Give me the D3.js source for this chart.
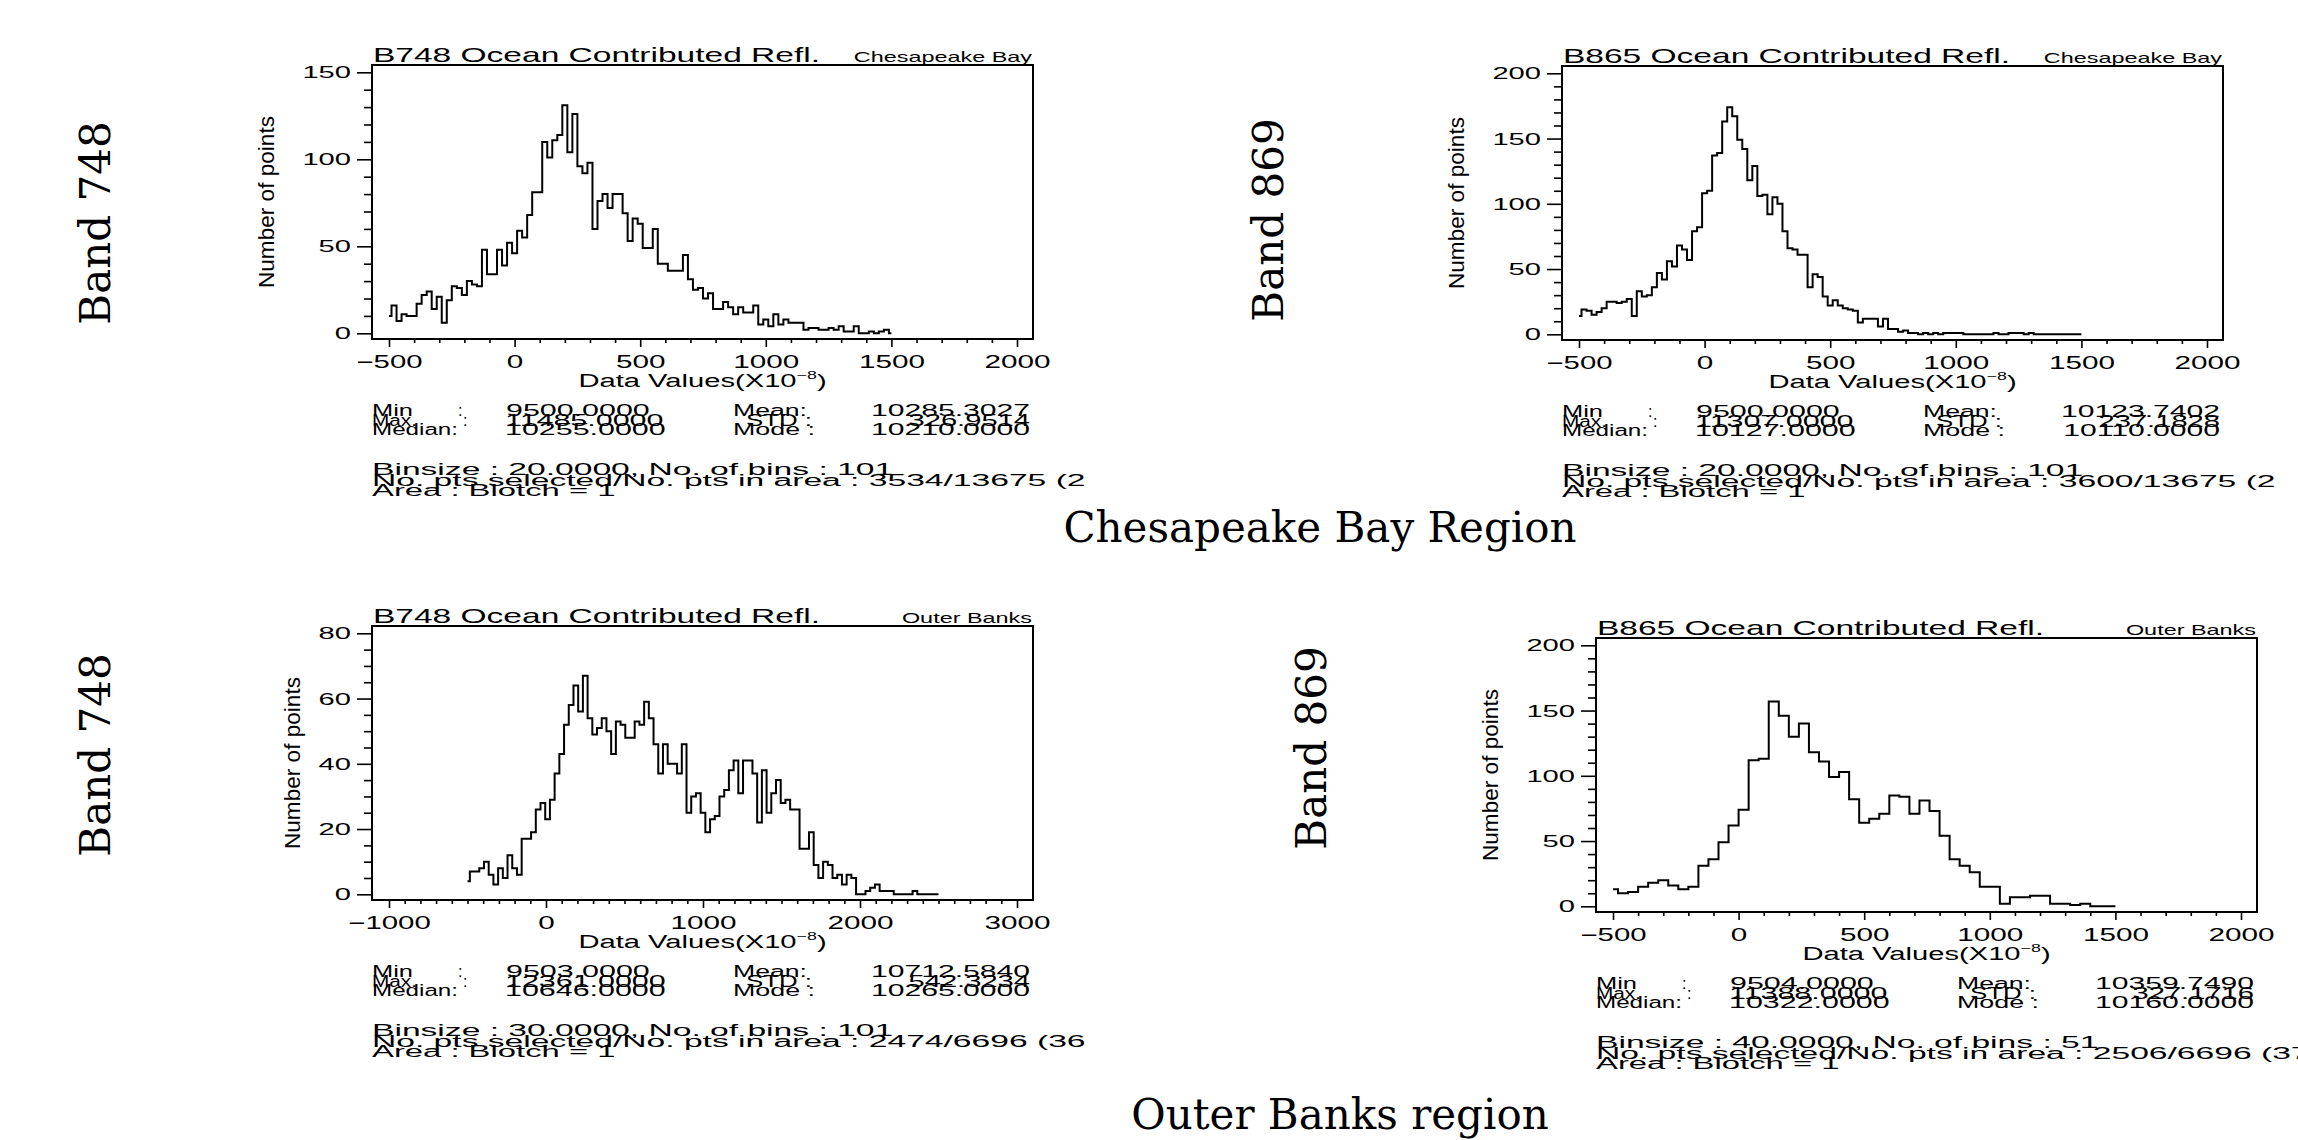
<!DOCTYPE html>
<meta charset="utf-8">
<script src="https://cdn.jsdelivr.net/npm/d3@7"></script>
<style>
    body {
        margin: 0;
        background: #fff;
    }

    text {
        font-family: "Liberation Sans", Arial, sans-serif;
        fill: #000;
    }

    text.serif {
        font-family: "DejaVu Serif", serif;
    }
</style>
<html>

<head>
    <title></title>
</head>

<body>
    <script>

        // histogram counts, one value per bin
        var cbay748 = [10, 16, 7, 11, 10, 10, 17, 22, 24, 14,
            21, 6, 19, 27, 26, 22, 30, 28, 27, 48,
            34, 34, 48, 39, 52, 46, 59, 55, 68, 81,
            81, 110, 101, 111, 114, 131, 104, 126, 96, 92,
            98, 60, 76, 80, 72, 80, 80, 69, 53, 66,
            63, 49, 49, 60, 40, 40, 36, 36, 36, 45,
            31, 25, 26, 20, 23, 14, 14, 18, 15, 11,
            15, 12, 12, 16, 5, 8, 4, 11, 5, 8,
            6, 6, 6, 2, 3, 3, 2, 2, 3, 2,
            4, 1, 1, 4, 0, 0, 1, 0, 1, 2, 0];

        var cbay869 = [14, 19, 18, 15, 17, 20, 25, 25, 24, 25,
            27, 14, 33, 29, 30, 36, 47, 42, 56, 52,
            68, 65, 57, 79, 82, 108, 110, 137, 139, 163,
            174, 167, 149, 142, 118, 129, 106, 107, 92, 105,
            100, 79, 66, 65, 61, 61, 36, 46, 44, 29,
            22, 26, 22, 20, 19, 18, 9, 12, 12, 12,
            6, 12, 4, 4, 2, 3, 1, 1, 0, 1,
            0, 1, 0, 1, 1, 1, 1, 0, 0, 0,
            0, 0, 0, 1, 0, 0, 1, 1, 1, 0,
            1, 0, 0, 0, 0, 0, 0, 0, 0, 0, 0];

        var obanks748 = [4, 7, 7, 8, 10, 6, 3, 8, 5, 12,
            8, 6, 17, 17, 19, 26, 28, 23, 29, 37,
            43, 52, 58, 64, 56, 67, 54, 49, 51, 54,
            50, 43, 53, 52, 48, 48, 53, 52, 59, 54,
            46, 37, 46, 40, 40, 37, 46, 25, 30, 31,
            25, 19, 23, 24, 30, 32, 38, 41, 31, 41,
            41, 37, 22, 38, 25, 31, 35, 28, 29, 26,
            26, 14, 14, 19, 9, 5, 10, 9, 5, 6,
            3, 6, 5, 0, 0, 1, 2, 3, 1, 1,
            1, 0, 0, 0, 0, 1, 0, 0, 0, 0, 0];

        var obanks869 = [13, 10, 11, 15, 18, 20, 16, 13, 15, 31,
            36, 49, 62, 74, 112, 113, 157, 146, 130, 140,
            118, 111, 99, 103, 82, 64, 67, 71, 85, 84,
            71, 81, 73, 54, 36, 31, 26, 15, 15, 2,
            7, 7, 8, 8, 2, 2, 1, 2, 0, 0, 0];

        var panelCounts = [cbay748, cbay869, obanks748, obanks869];
        var binStart = [-500, -500, -500, -500];
        var binSize = [20, 20, 30, 40];

        var titles = ["B748 Ocean Contributed Refl.", "B865 Ocean Contributed Refl.",
            "B748 Ocean Contributed Refl.", "B865 Ocean Contributed Refl."];
        var regionTags = ["Chesapeake Bay", "Chesapeake Bay", "Outer Banks", "Outer Banks"];

        var xTicks = [[-500, 0, 500, 1000, 1500, 2000], [-500, 0, 500, 1000, 1500, 2000],
            [-1000, 0, 1000, 2000, 3000], [-500, 0, 500, 1000, 1500, 2000]];
        var xMinorStep = [100, 100, 100, 100];
        var yTicks = [[0, 50, 100, 150], [0, 50, 100, 150, 200],
            [0, 20, 40, 60, 80], [0, 50, 100, 150, 200]];
        var yMinorStep = [10, 10, 5, 10];

        // statistics block under each histogram
        var statMin = ["9500.0000", "9500.0000", "9503.0000", "9504.0000"];
        var statMax = ["11485.0000", "11307.0000", "12361.0000", "11388.0000"];
        var statMedian = ["10255.0000", "10127.0000", "10646.0000", "10322.0000"];
        var statMean = ["10285.3027", "10123.7402", "10712.5840", "10359.7490"];
        var statStd = ["326.9514", "237.1828", "542.3234", "327.1716"];
        var statMode = ["10210.0000", "10110.0000", "10265.0000", "10160.0000"];
        var statBinsize = ["20.0000", "20.0000", "30.0000", "40.0000"];
        var statBins = ["101", "101", "101", "51"];
        var statPts = ["3534/13675 (2", "3600/13675 (2", "2474/6696 (36", "2506/6696 (37"];

        var bandLabels = ["Band 748", "Band 869", "Band 748", "Band 869"];
        var regionLabels = ["Chesapeake Bay Region", "Outer Banks region"];

        var width = 2298,
            height = 1140;

        // top left corner of each plot box
        var layout = [[372, 65], [1562, 66], [372, 626], [1596, 638]];
        var boxW = 661, boxH = 274;

        var svg = d3.select("body").append("svg")
            .attr("width", width)
            .attr("height", height);

        svg.append("rect").attr("width", width).attr("height", height).attr("fill", "#fff");

        // the plots are stretched sideways, so text is widened to a set length
        function fit(sel, w) {
            return sel.attr("textLength", w).attr("lengthAdjust", "spacingAndGlyphs");
        }
        function stretch(sel, k) {
            return fit(sel, sel.node().getComputedTextLength() * k);
        }

        panelCounts.forEach(function (counts, i) {
            var g = svg.append("g")
                .attr("transform", "translate(" + layout[i][0] + "," + layout[i][1] + ")");

            var xt = xTicks[i], yt = yTicks[i];
            var x = d3.scaleLinear()
                .domain([xt[0], xt[xt.length - 1]])
                .range([17, 645]);
            var y = d3.scaleLinear()
                .domain([0, yt[yt.length - 1]])
                .range([268.3, 7.3]);

            var xMinor = d3.range(xt[0], xt[xt.length - 1] + 1, xMinorStep[i])
                .filter(function (v) { return xt.indexOf(v) < 0; });
            var yMinor = d3.range(yt[0], yt[yt.length - 1] + 1, yMinorStep[i])
                .filter(function (v) { return yt.indexOf(v) < 0; });

            // bottom axis: minor then major ticks
            g.append("g")
                .attr("transform", "translate(0," + boxH + ")")
                .call(d3.axisBottom(x).tickValues(xMinor).tickSize(4).tickFormat(""))
                .call(function (a) { a.select(".domain").remove(); });

            var xa = g.append("g")
                .attr("transform", "translate(0," + boxH + ")")
                .call(d3.axisBottom(x).tickValues(xt).tickSize(8).tickFormat(d3.format("d")))
                .attr("font-size", 18)
                .call(function (a) { a.select(".domain").remove(); });
            xa.selectAll("text")
                .attr("y", 16)
                .attr("dy", "0.71em")
                .each(function () {
                    var t = d3.select(this);
                    fit(t, 16.5 * t.text().length);
                });

            // left axis
            g.append("g")
                .call(d3.axisLeft(y).tickValues(yMinor).tickSize(8).tickFormat(""))
                .call(function (a) { a.select(".domain").remove(); });

            var ya = g.append("g")
                .call(d3.axisLeft(y).tickValues(yt).tickSize(15).tickPadding(6))
                .attr("font-size", 17)
                .call(function (a) { a.select(".domain").remove(); });
            ya.selectAll("text")
                .each(function () {
                    var t = d3.select(this);
                    fit(t, 16.2 * t.text().length);
                });

            g.selectAll(".tick line").attr("stroke-width", 1.6);

            // the histogram, drawn as steps centred on each bin value
            var line = d3.line()
                .x(function (d, j) { return x(binStart[i] + j * binSize[i]); })
                .y(function (d) { return y(d); })
                .curve(d3.curveStep);

            g.append("path")
                .datum(counts)
                .attr("d", line)
                .attr("fill", "none")
                .attr("stroke", "#000")
                .attr("stroke-width", 2);

            g.append("rect")
                .attr("width", boxW)
                .attr("height", boxH)
                .attr("fill", "none")
                .attr("stroke", "#000")
                .attr("stroke-width", 2);

            // titles
            fit(g.append("text").attr("x", 1).attr("y", -3).attr("font-size", 21).text(titles[i]), 447);
            stretch(g.append("text")
                .attr("x", 660).attr("y", -3)
                .attr("text-anchor", "end")
                .attr("font-size", 15)
                .text(regionTags[i]), 1.56);

            var ylabX = yt[yt.length - 1] >= 100 ? -98 : -72;
            fit(g.append("text")
                .attr("transform", "translate(" + ylabX + "," + (boxH / 2) + ") rotate(-90) scale(1,1.25)")
                .attr("text-anchor", "middle")
                .attr("font-size", 18)
                .text("Number of points"), 172);

            var xl = g.append("text")
                .attr("transform", "translate(" + (boxW / 2) + ",322) scale(1.62,1)")
                .attr("text-anchor", "middle")
                .attr("font-size", 18);
            xl.append("tspan").text("Data Values(X10");
            xl.append("tspan").attr("dy", -8).attr("font-size", 11).text("\u22128");
            xl.append("tspan").attr("dy", 8).text(")");

            // statistics: one text block, the lines sit tight as in the original print
            var st = g.append("text").attr("font-size", 16);
            function put(str, px, py, w, anchor) {
                var t = st.append("tspan").attr("x", px).attr("y", py)
                    .attr("text-anchor", anchor || "start").text(str);
                return w ? fit(t, w) : t;
            }
            put("Min", 0, 351, 41);
            put(":", 86, 351);
            stretch(put(statMin[i], 134, 351), 1.9);
            put("Mean:", 361, 351, 74);
            stretch(put(statMean[i], 658, 351, 0, "end"), 1.88);

            put("Max.", 0, 360.5, 45);
            put(":", 91, 360.5);
            stretch(put(statMax[i], 133, 360.5), 1.9);
            put("STD :", 374, 360.5, 66);
            stretch(put(statStd[i], 658, 360.5, 0, "end"), 1.82);

            put("Median:", 0, 370, 86);
            stretch(put(statMedian[i], 133, 370), 1.9);
            put("Mode :", 361, 370, 82);
            stretch(put(statMode[i], 658, 370, 0, "end"), 1.88);

            stretch(put("Binsize : " + statBinsize[i] + ",  No. of bins : " + statBins[i], 0, 410), 2.1);
            stretch(put("No. pts selected/No. pts in area : " + statPts[i], 0, 420.5), 2.1);
            stretch(put("Area : Blotch = 1", 0, 431), 2.05);
        });

        // band labels down the side of each row
        var bandPos = [[110, 223], [1283, 220], [110, 755], [1326, 748]];
        bandLabels.forEach(function (b, i) {
            svg.append("text")
                .attr("class", "serif")
                .attr("transform", "translate(" + bandPos[i][0] + "," + bandPos[i][1] + ") rotate(-90)")
                .attr("text-anchor", "middle")
                .attr("font-size", 42)
                .text(b);
        });

        var regionPos = [[1320, 542], [1340, 1129]];
        regionLabels.forEach(function (r, i) {
            svg.append("text")
                .attr("class", "serif")
                .attr("x", regionPos[i][0])
                .attr("y", regionPos[i][1])
                .attr("text-anchor", "middle")
                .attr("font-size", 42)
                .text(r);
        });

    </script>
</body>

</html>
